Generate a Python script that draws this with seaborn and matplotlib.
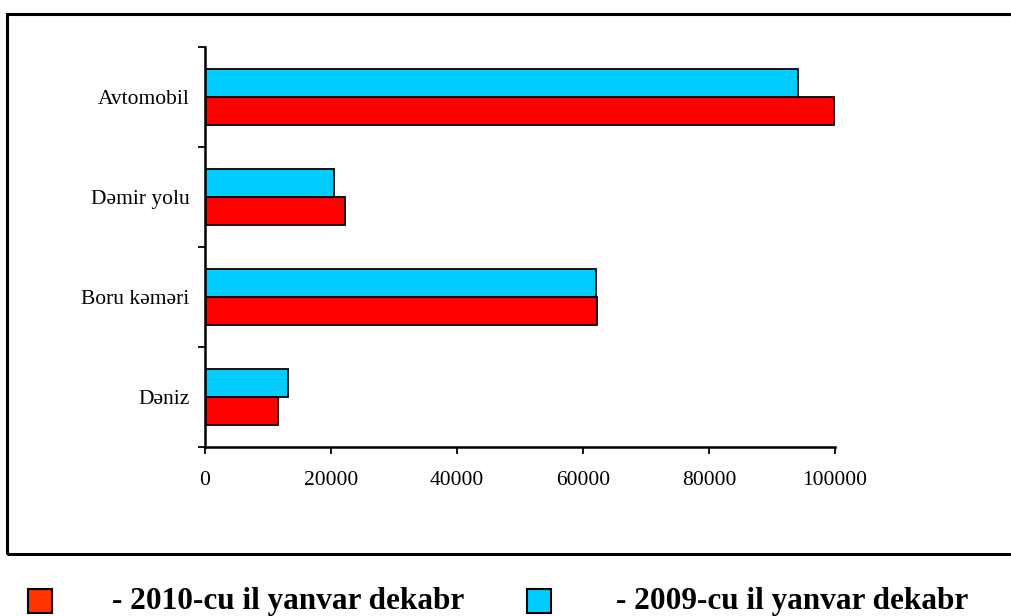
import matplotlib
matplotlib.use("Agg")
import matplotlib.pyplot as plt
from matplotlib.patches import Rectangle
import pandas as pd
import seaborn as sns

# data
categories = ["Avtomobil", "Dəmir yolu", "Boru kəməri", "Dəniz"]
values_2009 = [94100, 20500, 62000, 13200]
values_2010 = [99900, 22200, 62300, 11600]
label_2009 = "- 2009-cu il yanvar dekabr"
label_2010 = "- 2010-cu il yanvar dekabr"
x_ticks = [0, 20000, 40000, 60000, 80000, 100000]

df = pd.DataFrame({
    "kat": categories * 2,
    "deger": values_2009 + values_2010,
    "il": ["2009"] * 4 + ["2010"] * 4,
})

sns.set_style("white")
plt.rcParams["font.family"] = ["Liberation Serif", "DejaVu Serif"]
plt.rcParams["text.color"] = "black"
plt.rcParams["xtick.color"] = "black"
plt.rcParams["ytick.color"] = "black"

W, H = 1012, 616
fig = plt.figure(figsize=(W / 100, H / 100), dpi=100)
ax = fig.add_axes([205 / W, 1 - 447 / H, 630 / W, 400 / H])

sns.barplot(data=df, y="kat", x="deger", hue="il", hue_order=["2009", "2010"],
            order=categories, orient="h", palette={"2009": "#00CCFF", "2010": "#FF0000"},
            saturation=1, width=0.56, edgecolor="black", linewidth=1.3, ax=ax, legend=False)

ax.set_xlim(0, 100000)
ax.set_ylim(3.5, -0.5)
ax.set_xticks(x_ticks)
ax.set_xticklabels([str(t) for t in x_ticks], fontsize=15.5)
ax.set_yticks(range(len(categories)))
ax.set_yticklabels(categories, fontsize=15.5)
ax.set_yticks([i - 0.5 for i in range(len(categories) + 1)], minor=True)
ax.tick_params(axis="y", which="major", length=0, pad=11)
ax.tick_params(axis="y", which="minor", length=5, width=1.3, direction="out", left=True)
ax.tick_params(axis="x", which="major", length=5, width=1.3, direction="out", bottom=True, pad=12)
ax.set_xlabel("")
ax.set_ylabel("")
for s in ["top", "right"]:
    ax.spines[s].set_visible(False)
for s in ["left", "bottom"]:
    ax.spines[s].set_linewidth(1.8)
    ax.spines[s].set_color("black")

# outer frame (right edge runs off the picture)
fig.patches.append(Rectangle((7 / W, 1 - 554 / H), 1010 / W, 540 / H,
                             transform=fig.transFigure, fill=False,
                             edgecolor="black", linewidth=2.2))

# legend below the frame
fig.patches.append(Rectangle((28 / W, 1 - 613 / H), 24 / W, 24 / H,
                             transform=fig.transFigure, facecolor="#FF3300",
                             edgecolor="black", linewidth=1.5))
fig.text(112 / W, 1 - 601 / H, label_2010, fontsize=22.5, fontweight="bold", va="center")
fig.patches.append(Rectangle((527 / W, 1 - 613 / H), 24 / W, 24 / H,
                             transform=fig.transFigure, facecolor="#00CCFF",
                             edgecolor="black", linewidth=1.5))
fig.text(616 / W, 1 - 601 / H, label_2009, fontsize=22.5, fontweight="bold", va="center")

fig.savefig("out.png", dpi=100, facecolor="white")
